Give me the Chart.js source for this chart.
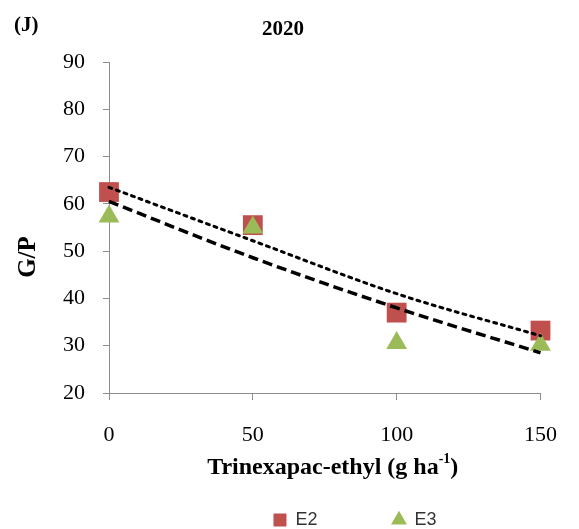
<!DOCTYPE html>
<html>
<head>
<meta charset="utf-8">
<script src="https://cdn.jsdelivr.net/npm/chart.js@4/dist/chart.umd.min.js"></script>
<style>
  html, body { margin: 0; padding: 0; background: #fff; }
  #wrap { width: 579px; height: 529px; }
</style>
</head>
<body>
<div id="wrap"><canvas id="c" width="579" height="529"></canvas></div>
<script>
// Trinexapac-ethyl doses (g ha-1)
var doses = [0, 50, 100, 150];
// G/P values
var e2 = [62.5, 55.5, 37.0, 33.2];
var e3 = [57.3, 55.0, 30.6, 30.2];
// trend lines as drawn (dotted = E2, dashed = E3)
var trendE2 = [63.5, 52.2, 41.0, 32.1];
var trendE3 = [60.5, 48.6, 38.0, 28.5];
var yTicks = [20, 30, 40, 50, 60, 70, 80, 90];
var xTicks = [0, 50, 100, 150];

function pts(xs, ys) {
    var out = [];
    for (var i = 0; i < xs.length; i++) {
        out.push({x: xs[i], y: ys[i]});
    }
    return out;
}

var serif = '"Liberation Serif", "Times New Roman", serif';

// extra texts: panel letter, year, axis titles
var textPlugin = {
    id: 'texts',
    afterLayout: function(chart) {
        // the legend row: a bit higher and right of centre, as in the original
        var lg = chart.legend;
        if (lg) {
            lg.top -= 17;
            lg.bottom -= 17;
            lg.left += 81;
            lg.right += 81;
        }
    },
    afterDraw: function(chart) {
        var ctx = chart.ctx;
        var area = chart.chartArea;
        ctx.save();
        ctx.fillStyle = '#000';
        ctx.textBaseline = 'middle';

        ctx.font = 'bold 21px ' + serif;
        ctx.textAlign = 'left';
        ctx.fillText('(J)', 14, 26);

        ctx.textAlign = 'center';
        ctx.font = 'bold 21px ' + serif;
        ctx.fillText('2020', 283, 30);

        // y title
        ctx.save();
        ctx.translate(29, 257);
        ctx.rotate(-Math.PI / 2);
        ctx.font = 'bold 25px ' + serif;
        ctx.fillText('G/P', 0, 0);
        ctx.restore();

        // x title with superscript
        var main = 'Trinexapac-ethyl (g ha';
        var sup = '-1';
        var tail = ')';
        ctx.font = 'bold 24px ' + serif;
        var w1 = ctx.measureText(main).width;
        var w3 = ctx.measureText(tail).width;
        ctx.font = 'bold 14px ' + serif;
        var w2 = ctx.measureText(sup).width;
        var x0 = (area.left + area.right) / 2 + 8 - (w1 + w2 + w3) / 2;
        var y0 = 468;
        ctx.textAlign = 'left';
        ctx.font = 'bold 24px ' + serif;
        ctx.fillText(main, x0, y0);
        ctx.font = 'bold 14px ' + serif;
        ctx.fillText(sup, x0 + w1, y0 - 9);
        ctx.font = 'bold 24px ' + serif;
        ctx.fillText(tail, x0 + w1 + w2, y0);
        ctx.restore();
    }
};

new Chart(document.getElementById('c').getContext('2d'), {
    type: 'scatter',
    data: {
        datasets: [
            {
                label: 'trend E2',
                type: 'line',
                data: pts(doses, trendE2),
                borderColor: '#000',
                borderWidth: 3,
                borderDash: [3, 5],
                borderCapStyle: 'round',
                pointRadius: 0,
                fill: false,
                clip: false,
                cubicInterpolationMode: 'monotone',
                order: 0
            },
            {
                label: 'trend E3',
                type: 'line',
                data: pts(doses, trendE3),
                borderColor: '#000',
                borderWidth: 3.5,
                borderDash: [10, 5],
                pointRadius: 0,
                fill: false,
                clip: false,
                cubicInterpolationMode: 'monotone',
                order: 0
            },
            {
                label: 'E2',
                data: pts(doses, e2),
                pointStyle: 'rect',
                pointRadius: 14,
                pointHoverRadius: 14,
                backgroundColor: '#C0504D',
                borderColor: '#C0504D',
                borderWidth: 0,
                clip: false,
                order: 2
            },
            {
                label: 'E3',
                data: pts(doses, e3),
                pointStyle: 'triangle',
                pointRadius: 12,
                pointHoverRadius: 12,
                backgroundColor: '#9BBB59',
                borderColor: '#9BBB59',
                borderWidth: 0,
                clip: false,
                order: 1
            }
        ]
    },
    options: {
        responsive: false,
        animation: false,
        layout: { padding: { left: 0, top: 62, right: 31, bottom: -27 } },
        plugins: {
            title: { display: false },
            tooltip: { enabled: false },
            legend: {
                display: true,
                position: 'bottom',
                labels: {
                    filter: function(item) { return item.text === 'E2' || item.text === 'E3'; },
                    sort: function(a, b) { return a.datasetIndex - b.datasetIndex; },
                    usePointStyle: true,
                    boxWidth: 13,
                    boxHeight: 13,
                    padding: 75,
                    color: '#333',
                    font: { family: '"Liberation Sans", Arial, sans-serif', size: 18 }
                }
            }
        },
        scales: {
            x: {
                type: 'linear',
                min: 0,
                max: 150,
                afterBuildTicks: function(scale) {
                    scale.ticks = xTicks.map(function(v) { return {value: v}; });
                },
                afterFit: function(scale) { scale.height = 60; },
                grid: {
                    display: true,
                    drawOnChartArea: false,
                    drawTicks: true,
                    tickLength: 7,
                    color: '#8c8c8c'
                },
                border: { display: true, color: '#8c8c8c', width: 1 },
                ticks: {
                    color: '#000',
                    padding: 22,
                    maxRotation: 0,
                    font: { family: serif, size: 22 }
                }
            },
            y: {
                type: 'linear',
                min: 20,
                max: 90,
                afterBuildTicks: function(scale) {
                    scale.ticks = yTicks.map(function(v) { return {value: v}; });
                },
                afterFit: function(scale) { scale.width = 109; },
                grid: {
                    display: true,
                    drawOnChartArea: false,
                    drawTicks: true,
                    tickLength: 6,
                    color: '#8c8c8c'
                },
                border: { display: true, color: '#8c8c8c', width: 1 },
                ticks: {
                    color: '#000',
                    padding: 18,
                    font: { family: serif, size: 22 }
                }
            }
        }
    },
    plugins: [textPlugin]
});
</script>
</body>
</html>
